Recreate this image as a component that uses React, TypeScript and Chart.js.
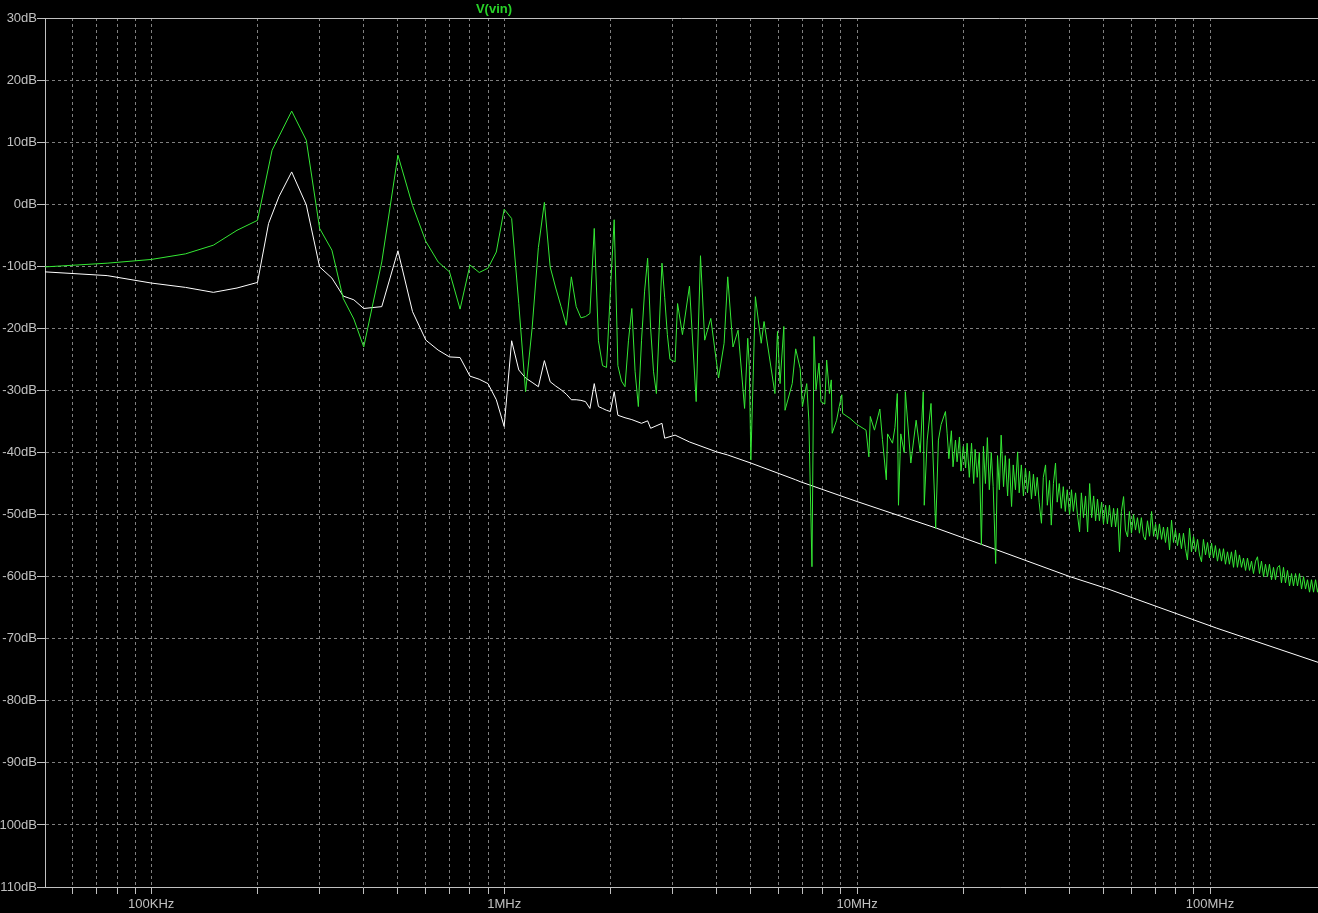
import React, { useEffect, useRef } from "react";
import { Chart, registerables } from "chart.js";

Chart.register(...registerables);

// Frequencies in MHz, magnitudes in dB
const greenLowFreqMHz = [
  0.05, 0.075, 0.1, 0.125, 0.15, 0.175, 0.2, 0.22, 0.25, 0.275, 0.3, 0.325, 0.35, 0.375, 0.4, 0.45, 0.5, 0.55, 0.6, 0.65,
  0.7, 0.75, 0.8, 0.85, 0.9, 0.95, 1.0, 1.05, 1.1, 1.15, 1.2, 1.25, 1.3, 1.35, 1.4, 1.45, 1.5, 1.55, 1.6, 1.65,
  1.7, 1.75, 1.8, 1.85, 1.9, 1.95, 2.0, 2.05, 2.1, 2.15, 2.2, 2.25, 2.3, 2.35, 2.4, 2.45, 2.5, 2.55, 2.6, 2.65,
  2.7, 2.75, 2.8, 2.85, 2.9, 2.95, 3.05, 3.1, 3.2, 3.35, 3.5, 3.6, 3.7, 3.85, 4.05, 4.2, 4.3, 4.45, 4.6, 4.8,
  4.9, 4.95, 5.0, 5.15, 5.35, 5.45, 5.85, 5.95, 6.05, 6.2, 6.25, 6.55, 6.7, 6.9, 7.0, 7.2, 7.3, 7.45, 7.55, 7.65,
  7.8, 7.9, 8.1, 8.2, 8.35, 8.45, 8.5, 8.75, 8.9, 9.05, 9.1, 9.55, 10.0, 10.6, 10.8, 10.9, 11.2, 11.6, 11.8, 12.1,
  12.2, 12.6, 12.8, 13.0, 13.1, 13.3, 13.6, 13.7, 14.2, 14.7, 15.1, 15.4, 15.5, 15.8, 16.2, 16.7, 17.0, 17.3, 17.8,
];
const greenLowDb = [
  -10.1, -9.5, -8.9, -8.0, -6.6, -4.2, -2.6, 8.7, 15.0, 10.3, -3.9, -7.4, -15.2, -18.5, -23.0, -9.3, 7.9, -0.2, -6.0, -9.3,
  -10.9, -16.9, -9.8, -11.0, -10.3, -7.7, -0.8, -2.3, -16, -30.2, -20, -7, 0.3, -10.1, -13.5, -16.5, -19.5, -11.7, -16.5, -18.3,
  -18.1, -17.6, -3.9, -22, -26, -26.3, -14, -2.5, -26, -28.5, -29.4, -22, -16.8, -27, -32.6, -22, -14, -8.7, -20, -27,
  -30.5, -20, -9.5, -15, -21, -25, -25.4, -16, -21, -13.2, -31.8, -8.3, -21.9, -18.4, -28, -22.4, -11.7, -23, -20.3, -32.9,
  -21.6, -26, -41.2, -14.9, -22.4, -18.9, -30.5, -20.5, -28.9, -19.7, -33.2, -28.9, -23.3, -26.5, -32.6, -28.9, -34.8, -58.4, -21.3, -29.9,
  -25.6, -31.8, -32.2, -25.1, -30.5, -28.3, -36.9, -34.8, -32.6, -30.7, -33.7, -34.5, -35.5, -36.4, -40.7, -34.2, -36.4, -33, -37.9, -44.4,
  -37, -38.5, -36, -30.5, -48.5, -37, -40, -30.2, -41.7, -34.8, -40, -30.2, -48.5, -38, -32.1, -52.2, -38, -35.5, -33.4,
];
const greenHighFreqMHz = [
  18.0, 18.2, 18.5, 18.7, 19.0, 19.2, 19.5, 19.7, 20.0, 20.3,
  20.5, 20.8, 21.1, 21.4, 21.6, 21.9, 22.2, 22.5, 22.8, 23.1,
  23.4, 23.7, 24.0, 24.3, 24.7, 25.0, 25.3, 25.6, 26.0, 26.3,
  26.7, 27.0, 27.4, 27.7, 28.1, 28.5, 28.8, 29.2, 29.6, 30.0,
  30.4, 30.8, 31.2, 31.6, 32.0, 32.4, 32.8, 33.3, 33.7, 34.2,
  34.6, 35.1, 35.5, 36.0, 36.5, 36.9, 37.4, 37.9, 38.4, 38.9,
  39.4, 40.0, 40.5, 41.0, 41.6, 42.1, 42.7, 43.2, 43.8, 44.4,
  45.0, 45.6, 46.2, 46.8, 47.4, 48.0, 48.6, 49.3, 49.9, 50.6,
  51.2, 51.9, 52.6, 53.3, 54.0, 54.7, 55.4, 56.1, 56.9, 57.6,
  58.4, 59.1, 59.9, 60.7, 61.5, 62.3, 63.1, 63.9, 64.8, 65.6,
  66.5, 67.4, 68.3, 69.2, 70.1, 71.0, 71.9, 72.9, 73.8, 74.8,
  75.8, 76.8, 77.8, 78.8, 79.8, 80.9, 81.9, 83.0, 84.1, 85.2,
  86.3, 87.5, 88.6, 89.8, 91.0, 92.2, 93.4, 94.6, 95.8, 97.1,
  98.4, 99.7, 101.0, 102.3, 103.6, 105.0, 106.4, 107.8, 109.2, 110.6,
  112.1, 113.5, 115.0, 116.6, 118.1, 119.6, 121.2, 122.8, 124.4, 126.1,
  127.7, 129.4, 131.1, 132.8, 134.6, 136.3, 138.1, 139.9, 141.8, 143.6,
  145.5, 147.4, 149.4, 151.3, 153.3, 155.3, 157.4, 159.4, 161.5, 163.6,
  165.8, 168.0, 170.2, 172.4, 174.7, 177.0, 179.3, 181.7, 184.1, 186.5,
  188.9, 191.4, 193.9, 196.5, 199.1, 201.7, 204.3, 207.0,
];
const greenHighDb = [
  -37, -41, -36.5, -42.3, -38, -41.5, -37.5, -43, -39, -42.5,
  -38.5, -44, -38.5, -45, -39.5, -44, -40, -54.9, -39, -45,
  -37.6, -46, -40, -45.5, -57.9, -40.5, -46, -37.2, -45.5, -40.5,
  -47, -41, -48.7, -42, -46, -39.9, -46.5, -42, -47, -42.5,
  -46.5, -43, -47.5, -43.5, -47, -44, -48, -51.4, -44, -42,
  -48.5, -44.5, -51.7, -45, -41.7, -48, -45, -49, -45.5, -49.5,
  -46, -50, -46, -49.5, -46.5, -50, -52.8, -46.5, -50.5, -47,
  -52.8, -45, -50.5, -47, -51, -47.5, -51, -48, -51.5, -48.5,
  -51.5, -48.5, -52, -49, -52, -49, -56, -49.5, -47.1, -52.5,
  -53.6, -49.5, -53, -50, -52.5, -50.5, -53, -50.5, -53.5, -54.1,
  -51, -53.5, -49.5, -53.5, -51.5, -54, -51.5, -54, -52, -54.5,
  -52, -55.7, -50.9, -54.5, -52.5, -55, -53, -55.5, -53, -55.5,
  -57.3, -52.2, -56, -53.5, -56, -54, -56.5, -57.6, -54, -56.5,
  -54.5, -57, -54.6, -57, -55, -57.5, -55.5, -57.5, -55.5, -58,
  -56, -58, -56, -58.5, -55.7, -58.5, -56.5, -58.5, -57, -59,
  -57, -59, -57.5, -59.5, -57.5, -56.8, -59.5, -57.5, -60, -58,
  -60, -58, -60.5, -58.5, -60.5, -58.5, -58.2, -61, -58.5, -61,
  -59, -61.5, -59.5, -61.5, -59.5, -61.5, -59.5, -62, -60, -62,
  -60.5, -62.5, -60.5, -62.5, -60.5, -62.5, -61, -62.5,
];

const whiteFreqMHz = [
  0.05, 0.075, 0.1, 0.125, 0.15, 0.175, 0.2, 0.215, 0.23, 0.25, 0.275, 0.3, 0.325, 0.35, 0.375, 0.4, 0.45, 0.5, 0.55, 0.6,
  0.65, 0.7, 0.75, 0.8, 0.85, 0.9, 0.95, 1.0, 1.05, 1.1, 1.15, 1.2, 1.25, 1.3, 1.35, 1.4, 1.45, 1.5, 1.55, 1.6,
  1.65, 1.7, 1.75, 1.8, 1.85, 1.9, 1.95, 2.0, 2.05, 2.1, 2.2, 2.3, 2.45, 2.55, 2.6, 2.8, 2.85, 3.05, 3.35, 4.0,
  4.3, 5.0, 6.7, 6.9, 10, 16.8, 24.9, 40.1, 50.9, 104.5, 202.3,
];
const whiteDb = [
  -10.9, -11.5, -12.7, -13.4, -14.2, -13.5, -12.6, -3.1, 1.2, 5.2, -0.1, -10.1, -11.9, -14.8, -15.4, -16.8, -16.5, -7.5, -17.3, -21.9,
  -23.5, -24.6, -24.7, -27.7, -28.2, -28.9, -31.5, -35.8, -22, -26.7, -28.0, -28.7, -29.4, -25.2, -28.6, -29.3, -29.9, -30.6, -31.5, -31.5,
  -31.6, -31.8, -32.9, -28.9, -32.6, -32.9, -33.2, -33.4, -30.2, -34.0, -34.4, -34.7, -35.3, -34.9, -36.1, -35.3, -37.7, -37.2, -38.3, -39.9,
  -40.4, -41.7, -44.4, -44.7, -47.9, -52.2, -55.7, -60, -61.9, -68.3, -73.8,
];

const decadeTicks = [0.1, 1, 10, 100];
const decadeLabels = ["100KHz", "1MHz", "10MHz", "100MHz"];
const gridFreqsMHz = [
  0.06, 0.07, 0.08, 0.09,
  0.1, 0.2, 0.3, 0.4, 0.5, 0.6, 0.7, 0.8, 0.9,
  1, 2, 3, 4, 5, 6, 7, 8, 9,
  10, 20, 30, 40, 50, 60, 70, 80, 90,
  100,
];
const yTicks = [30, 20, 10, 0, -10, -20, -30, -40, -50, -60, -70, -80, -90, -100, -110];
const traceTitle = "V(vin)";

const AXIS_COLOR = "#c0c0c0";
const GRID_COLOR = "#808080";
const GREEN = "rgb(52,232,52)";
const FONT = '"Liberation Sans", Arial, sans-serif';

export default function App() {
  const ref = useRef<HTMLCanvasElement | null>(null);

  useEffect(() => {
    if (!ref.current) return;
    const greenData = [
      ...greenLowFreqMHz.map((f, i) => ({ x: f, y: greenLowDb[i] })),
      ...greenHighFreqMHz.map((f, i) => ({ x: f, y: greenHighDb[i] })),
    ];
    const whiteData = whiteFreqMHz.map((f, i) => ({ x: f, y: whiteDb[i] }));

    const bgPlugin = {
      id: "bg",
      beforeDraw(chart: any) {
        const ctx = chart.ctx;
        ctx.save();
        ctx.fillStyle = "#000";
        ctx.fillRect(0, 0, chart.width, chart.height);
        ctx.restore();
      },
      afterDraw(chart: any) {
        const ctx = chart.ctx;
        const a = chart.chartArea;
        ctx.save();
        ctx.strokeStyle = AXIS_COLOR;
        ctx.lineWidth = 1;
        ctx.beginPath();
        ctx.moveTo(a.left, Math.round(a.top) + 0.5);
        ctx.lineTo(chart.width, Math.round(a.top) + 0.5);
        ctx.stroke();
        ctx.fillStyle = "rgb(40,210,40)";
        ctx.font = `bold 13px ${FONT}`;
        ctx.textAlign = "center";
        ctx.textBaseline = "middle";
        ctx.fillText(traceTitle, 494, 9);
        ctx.restore();
      },
    };

    const chart = new Chart(ref.current, {
      type: "line",
      data: {
        datasets: [
          {
            label: traceTitle,
            data: greenData,
            borderColor: GREEN,
            borderWidth: 1,
            pointRadius: 0,
            tension: 0,
          },
          {
            label: "white",
            data: whiteData,
            borderColor: "#ffffff",
            borderWidth: 1,
            pointRadius: 0,
            tension: 0,
          },
        ],
      },
      options: {
        animation: false,
        responsive: false,
        devicePixelRatio: 1,
        layout: { padding: { top: 18, left: 0, right: 0, bottom: 0 } },
        plugins: {
          legend: { display: false },
          tooltip: { enabled: false },
          title: { display: false },
        },
        scales: {
          x: {
            type: "logarithmic",
            min: 0.05,
            max: 202.3,
            afterBuildTicks: (s: any) => {
              s.ticks = gridFreqsMHz.map((v) => ({ value: v }));
            },
            afterFit: (s: any) => {
              s.height = 26;
            },
            ticks: {
              autoSkip: false,
              maxRotation: 0,
              minRotation: 0,
              color: AXIS_COLOR,
              font: { family: FONT, size: 13 },
              padding: 3,
              callback: (v: any) => {
                const i = decadeTicks.findIndex((d) => Math.abs(d - Number(v)) / d < 1e-6);
                return i >= 0 ? decadeLabels[i] : "";
              },
            },
            grid: { color: GRID_COLOR, tickColor: AXIS_COLOR, tickLength: 7, lineWidth: 1 },
            border: { color: AXIS_COLOR, dash: [3, 3], width: 1 },
          },
          y: {
            type: "linear",
            min: -110,
            max: 30,
            afterBuildTicks: (s: any) => {
              s.ticks = yTicks.map((v) => ({ value: v }));
            },
            afterFit: (s: any) => {
              s.width = 45;
            },
            ticks: {
              color: AXIS_COLOR,
              font: { family: FONT, size: 13 },
              padding: 0,
              callback: (v: any) => `${v}dB`,
            },
            grid: { color: GRID_COLOR, tickColor: AXIS_COLOR, tickLength: 8, lineWidth: 1 },
            border: { color: AXIS_COLOR, dash: [3, 3], width: 1 },
          },
        },
      },
      plugins: [bgPlugin],
    });
    return () => chart.destroy();
  }, []);

  return (
    <div style={{ position: "fixed", left: 0, top: 0, width: 1318, height: 913, background: "#000" }}>
      <canvas ref={ref} width={1318} height={913} style={{ display: "block" }} />
    </div>
  );
}
